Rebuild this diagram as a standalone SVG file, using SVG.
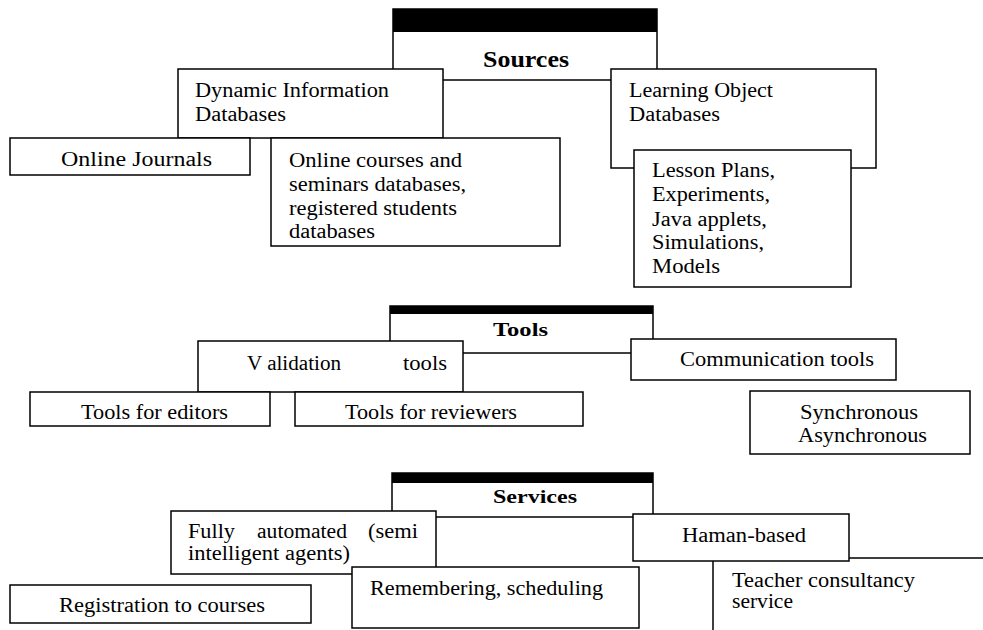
<svg xmlns="http://www.w3.org/2000/svg" width="983" height="630" viewBox="0 0 983 630" font-family="Liberation Serif, Times New Roman, serif">
<style>
.b{fill:#fff;stroke:#000;stroke-width:1.5}
.bar{fill:#000}
.t{font-family:"Liberation Serif","Times New Roman",serif;font-size:20px;fill:#000}
.h{font-family:"Liberation Serif","Times New Roman",serif;font-weight:bold;fill:#000}
</style>
<rect width="983" height="630" fill="#fff"/>
<g id="connectors"></g>

<g id="sources">
<rect class="b" x="393" y="9" width="264" height="71"/>
<rect class="bar" x="393" y="9" width="264" height="23"/>
<text class="h" x="483" y="67" font-size="24" textLength="86" lengthAdjust="spacingAndGlyphs">Sources</text>
</g>
<g id="dynamic">
<rect class="b" x="178" y="69" width="265" height="69"/>
<text class="t" x="195" y="97" textLength="194" lengthAdjust="spacingAndGlyphs">Dynamic Information</text>
<text class="t" x="195" y="121" textLength="91" lengthAdjust="spacingAndGlyphs">Databases</text>
</g>
<g id="learning">
<rect class="b" x="611" y="69" width="265" height="99"/>
<text class="t" x="629" y="97" textLength="144" lengthAdjust="spacingAndGlyphs">Learning Object</text>
<text class="t" x="629" y="121" textLength="91" lengthAdjust="spacingAndGlyphs">Databases</text>
</g>
<g id="journals">
<rect class="b" x="10" y="138" width="240" height="37"/>
<text class="t" x="61" y="166" textLength="151" lengthAdjust="spacingAndGlyphs">Online Journals</text>
</g>
<g id="courses">
<rect class="b" x="271" y="138" width="289" height="108"/>
<text class="t" x="289" y="167" textLength="173" lengthAdjust="spacingAndGlyphs">Online courses and</text>
<text class="t" x="289" y="191" textLength="177" lengthAdjust="spacingAndGlyphs">seminars databases,</text>
<text class="t" x="289" y="215" textLength="168" lengthAdjust="spacingAndGlyphs">registered students</text>
<text class="t" x="289" y="238" textLength="86" lengthAdjust="spacingAndGlyphs">databases</text>
</g>
<g id="lessons">
<rect class="b" x="634" y="150" width="217" height="137"/>
<text class="t" x="652" y="177" textLength="123" lengthAdjust="spacingAndGlyphs">Lesson Plans,</text>
<text class="t" x="652" y="201" textLength="118" lengthAdjust="spacingAndGlyphs">Experiments,</text>
<text class="t" x="652" y="226" textLength="115" lengthAdjust="spacingAndGlyphs">Java applets,</text>
<text class="t" x="652" y="249" textLength="112" lengthAdjust="spacingAndGlyphs">Simulations,</text>
<text class="t" x="652" y="273" textLength="68" lengthAdjust="spacingAndGlyphs">Models</text>
</g>

<g id="tools">
<rect class="b" x="390" y="306" width="263" height="47"/>
<rect class="bar" x="390" y="306" width="263" height="8"/>
<text class="h" x="493" y="336" font-size="19" textLength="55" lengthAdjust="spacingAndGlyphs">Tools</text>
</g>
<g id="validation">
<rect class="b" x="198" y="341" width="265" height="51"/>
<text class="t" y="370"><tspan x="247" textLength="94" lengthAdjust="spacingAndGlyphs">V alidation</tspan> <tspan x="403" textLength="44" lengthAdjust="spacingAndGlyphs">tools</tspan></text>
</g>
<g id="communication">
<rect class="b" x="631" y="339" width="265" height="41"/>
<text class="t" x="680" y="366" textLength="194" lengthAdjust="spacingAndGlyphs">Communication tools</text>
</g>
<g id="editors">
<rect class="b" x="30" y="392" width="240" height="34"/>
<text class="t" x="81" y="419" textLength="147" lengthAdjust="spacingAndGlyphs">Tools for editors</text>
</g>
<g id="reviewers">
<rect class="b" x="295" y="392" width="288" height="34"/>
<text class="t" x="345" y="419" textLength="172" lengthAdjust="spacingAndGlyphs">Tools for reviewers</text>
</g>
<g id="sync">
<rect class="b" x="750" y="391" width="220" height="63"/>
<text class="t" x="800" y="419" textLength="118" lengthAdjust="spacingAndGlyphs">Synchronous</text>
<text class="t" x="798" y="442" textLength="129" lengthAdjust="spacingAndGlyphs">Asynchronous</text>
</g>

<g id="services">
<rect class="b" x="392" y="473" width="261" height="44"/>
<rect class="bar" x="392" y="473" width="261" height="10"/>
<text class="h" x="493" y="503" font-size="19" textLength="84" lengthAdjust="spacingAndGlyphs">Services</text>
</g>
<g id="automated">
<rect class="b" x="171" y="511" width="265" height="63"/>
<text class="t" y="538"><tspan x="188" textLength="47" lengthAdjust="spacingAndGlyphs">Fully</tspan> <tspan x="257" textLength="90" lengthAdjust="spacingAndGlyphs">automated</tspan> <tspan x="368" textLength="50" lengthAdjust="spacingAndGlyphs">(semi</tspan></text>
<text class="t" x="188" y="560" textLength="162" lengthAdjust="spacingAndGlyphs">intelligent agents)</text>
</g>
<g id="remembering">
<rect class="b" x="352" y="567" width="287" height="61"/>
<text class="t" x="370" y="595" textLength="233" lengthAdjust="spacingAndGlyphs">Remembering, scheduling</text>
</g>
<g id="registration">
<rect class="b" x="10" y="585" width="301" height="38"/>
<text class="t" x="59" y="612" textLength="206" lengthAdjust="spacingAndGlyphs">Registration to courses</text>
</g>
<g id="teacher">
<rect class="b" x="713" y="558" width="290" height="90"/>
<text class="t" x="732" y="587" textLength="183" lengthAdjust="spacingAndGlyphs">Teacher consultancy</text>
<text class="t" x="732" y="608" textLength="61" lengthAdjust="spacingAndGlyphs">service</text>
</g>
<g id="haman">
<rect class="b" x="633" y="514" width="216" height="47"/>
<text class="t" x="682" y="542" textLength="124" lengthAdjust="spacingAndGlyphs">Haman-based</text>
</g>
</svg>
